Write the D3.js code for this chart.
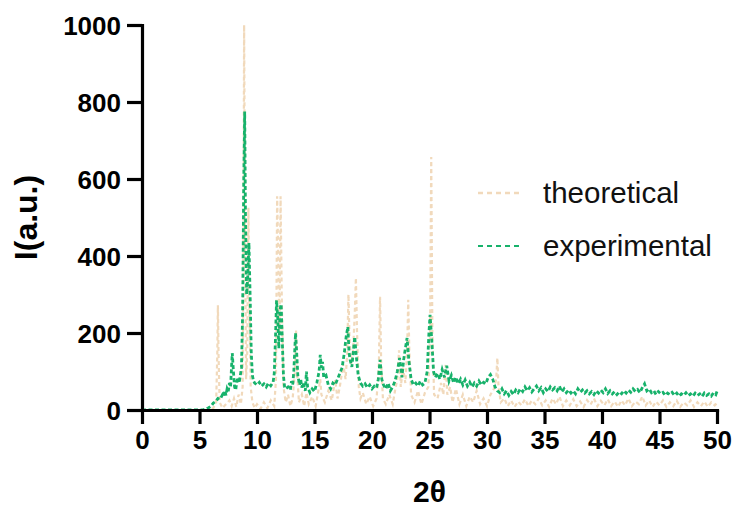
<!DOCTYPE html>
<html>
<head>
<meta charset="utf-8">
<script src="https://cdn.jsdelivr.net/npm/d3@7"></script>
<style>
  html, body { margin: 0; padding: 0; background: #ffffff; }
  svg { display: block; font-family: "Liberation Sans", Arial, sans-serif; }
</style>
</head>
<body>
<svg id="chart" width="737" height="510"></svg>
<script>
// ---- data ----
const xTicks = [0, 5, 10, 15, 20, 25, 30, 35, 40, 45, 50];
const yTicks = [0, 200, 400, 600, 800, 1000];
const seriesNames = ["theoretical", "experimental"];

const theoTheta = [0, 5.8, 6.2, 6.45, 6.55, 6.6, 6.65, 6.75, 7.0, 7.3, 7.6, 7.8, 8.0, 8.2, 8.4, 8.6, 8.75, 8.83, 8.88, 8.95, 9.05, 9.15, 9.25, 9.33, 9.45, 9.6, 9.8, 10.0, 10.3, 10.6, 10.9, 11.2, 11.5, 11.65, 11.75, 11.85, 11.95, 12.05, 12.15, 12.3, 12.5, 12.7, 12.9, 13.1, 13.3, 13.4, 13.5, 13.65, 13.9, 14.1, 14.3, 14.5, 14.8, 15.1, 15.4, 15.5, 15.6, 15.9, 16.2, 16.5, 16.8, 17.0, 17.2, 17.5, 17.7, 17.85, 17.95, 18.05, 18.2, 18.35, 18.5, 18.6, 18.7, 18.85, 19.0, 19.2, 19.5, 19.8, 20.1, 20.4, 20.6, 20.7, 20.8, 20.95, 21.2, 21.5, 21.8, 22.0, 22.2, 22.35, 22.5, 22.7, 22.9, 23.05, 23.15, 23.25, 23.4, 23.7, 24.0, 24.3, 24.6, 24.9, 25.05, 25.15, 25.25, 25.4, 25.7, 26.0, 26.2, 26.4, 26.55, 26.8, 27.0, 27.3, 27.6, 27.9, 28.2, 28.5, 28.8, 29.1, 29.4, 29.7, 30.0, 30.3, 30.6, 30.8, 30.9, 31.0, 31.2, 31.5, 31.8, 32.1, 32.4, 32.7, 33.0, 33.3, 33.6, 33.9, 34.2, 34.5, 34.8, 35.1, 35.4, 35.7, 36.0, 36.3, 36.6, 36.9, 37.2, 37.5, 37.8, 38.1, 38.4, 38.7, 39.0, 39.3, 39.6, 39.9, 40.2, 40.5, 40.8, 41.1, 41.4, 41.7, 42.0, 42.3, 42.6, 42.9, 43.2, 43.5, 43.8, 44.1, 44.4, 44.7, 45.0, 45.3, 45.6, 45.9, 46.2, 46.5, 46.8, 47.1, 47.4, 47.7, 48.0, 48.3, 48.6, 48.9, 49.2, 49.5, 49.8, 50.0];
const theoIntensity = [0, 0, 5, 20, 150, 272, 150, 20, 5, 15, 25, 10, 30, 8, 40, 15, 60, 500, 1000, 500, 80, 150, 525, 300, 60, 20, 5, 15, 3, 20, 5, 25, 10, 80, 555, 400, 200, 555, 300, 60, 20, 40, 10, 30, 100, 208, 90, 20, 40, 10, 45, 15, 35, 10, 60, 80, 40, 20, 50, 25, 78, 30, 60, 120, 80, 150, 300, 180, 120, 150, 250, 343, 200, 60, 30, 45, 15, 35, 10, 30, 120, 294, 120, 30, 15, 40, 15, 50, 80, 155, 60, 110, 70, 150, 286, 150, 40, 20, 50, 15, 45, 60, 200, 657, 200, 40, 30, 70, 40, 117, 40, 60, 20, 55, 15, 40, 10, 35, 20, 50, 15, 30, 10, 40, 55, 80, 135, 60, 20, 30, 10, 25, 8, 22, 12, 28, 10, 25, 15, 30, 12, 25, 8, 30, 15, 35, 10, 25, 12, 28, 10, 22, 8, 26, 14, 30, 10, 24, 12, 28, 10, 22, 8, 25, 12, 30, 10, 22, 15, 35, 12, 25, 8, 22, 12, 25, 8, 20, 10, 24, 8, 20, 12, 25, 8, 20, 10, 22, 8, 20, 12, 18];

const expTheta = [0, 5.2, 5.5, 5.8, 6.0, 6.2, 6.4, 6.6, 6.8, 7.0, 7.1, 7.2, 7.3, 7.4, 7.5, 7.6, 7.7, 7.8, 7.85, 7.95, 8.05, 8.15, 8.25, 8.35, 8.45, 8.55, 8.65, 8.75, 8.85, 8.93, 9.0, 9.1, 9.2, 9.3, 9.4, 9.5, 9.6, 9.7, 9.8, 10.0, 10.2, 10.4, 10.6, 10.8, 11.0, 11.2, 11.4, 11.5, 11.6, 11.7, 11.8, 11.9, 12.0, 12.1, 12.2, 12.3, 12.4, 12.5, 12.7, 12.9, 13.0, 13.1, 13.2, 13.35, 13.45, 13.55, 13.7, 13.8, 13.9, 14.0, 14.2, 14.3, 14.4, 14.6, 14.8, 15.0, 15.2, 15.4, 15.5, 15.6, 15.7, 15.8, 16.0, 16.2, 16.4, 16.6, 16.8, 17.0, 17.2, 17.4, 17.6, 17.75, 17.9, 18.0, 18.1, 18.25, 18.4, 18.5, 18.6, 18.8, 19.0, 19.2, 19.4, 19.6, 19.8, 20.0, 20.2, 20.4, 20.55, 20.7, 20.85, 21.0, 21.2, 21.4, 21.6, 21.8, 22.0, 22.2, 22.4, 22.5, 22.6, 22.75, 22.9, 23.05, 23.2, 23.4, 23.6, 23.8, 24.0, 24.2, 24.4, 24.6, 24.8, 24.95, 25.05, 25.2, 25.35, 25.5, 25.7, 25.9, 26.1, 26.3, 26.5, 26.7, 26.9, 27.1, 27.3, 27.5, 27.7, 27.9, 28.1, 28.3, 28.5, 28.7, 28.9, 29.1, 29.3, 29.5, 29.7, 29.9, 30.1, 30.3, 30.5, 30.7, 30.9, 31.1, 31.3, 31.5, 31.7, 31.9, 32.1, 32.3, 32.5, 32.7, 32.9, 33.1, 33.3, 33.5, 33.7, 33.9, 34.1, 34.3, 34.5, 34.7, 34.9, 35.1, 35.3, 35.5, 35.7, 35.9, 36.1, 36.3, 36.5, 36.7, 36.9, 37.1, 37.3, 37.5, 37.7, 37.9, 38.1, 38.3, 38.5, 38.7, 38.9, 39.1, 39.3, 39.5, 39.7, 39.9, 40.1, 40.3, 40.5, 40.7, 40.9, 41.1, 41.3, 41.5, 41.7, 41.9, 42.1, 42.3, 42.5, 42.7, 42.9, 43.1, 43.3, 43.5, 43.7, 43.9, 44.1, 44.3, 44.5, 44.7, 44.9, 45.1, 45.3, 45.5, 45.7, 45.9, 46.1, 46.3, 46.5, 46.7, 46.9, 47.1, 47.3, 47.5, 47.7, 47.9, 48.1, 48.3, 48.5, 48.7, 48.9, 49.1, 49.3, 49.5, 49.7, 49.9, 50.0];
const expIntensity = [0, 0, 2, 6, 10, 18, 22, 30, 28, 40, 35, 50, 38, 55, 48, 70, 60, 120, 148, 100, 60, 52, 75, 85, 70, 90, 110, 250, 600, 775, 500, 300, 350, 434, 300, 150, 90, 75, 70, 65, 72, 62, 68, 60, 70, 63, 72, 95, 180, 285, 240, 160, 260, 275, 180, 90, 60, 55, 60, 52, 75, 65, 100, 200, 150, 90, 65, 80, 58, 70, 50, 100, 60, 45, 55, 48, 70, 100, 143, 110, 125, 85, 90, 65, 55, 70, 65, 80, 95, 110, 150, 190, 216, 150, 130, 112, 160, 190, 150, 90, 70, 62, 68, 58, 65, 55, 62, 58, 80, 130, 80, 65, 55, 70, 50, 60, 75, 100, 135, 110, 85, 130, 160, 187, 130, 80, 65, 70, 62, 75, 65, 70, 100, 200, 247, 180, 100, 85, 95, 80, 105, 85, 115, 75, 90, 70, 85, 68, 80, 65, 78, 62, 72, 60, 70, 62, 75, 65, 72, 68, 85, 92, 80, 60, 50, 45, 55, 42, 50, 38, 48, 40, 52, 45, 55, 48, 60, 50, 58, 47, 55, 62, 50, 58, 45, 55, 48, 60, 52, 58, 50, 62, 47, 55, 45, 52, 44, 50, 42, 55, 46, 52, 44, 50, 42, 48, 40, 50, 44, 52, 45, 55, 43, 50, 42, 48, 40, 47, 42, 50, 44, 52, 46, 55, 48, 53, 45, 58, 68, 50, 55, 45, 50, 40, 48, 42, 46, 38, 44, 40, 46, 38, 44, 36, 42, 38, 45, 37, 42, 36, 44, 38, 42, 35, 44, 38, 42, 36, 45, 40, 48];

// ---- layout ----
const svg = d3.select("#chart");
const mLeft = 142, mRight = 717, mTop = 25, mBottom = 410;
const x = d3.scaleLinear().domain([0, 50]).range([mLeft, mRight]);
const y = d3.scaleLinear().domain([0, 1000]).range([mBottom, mTop]);

const colTheo = "#f1d9bb";
const colExp = "#17b26b";

const line = d3.line().x(d => x(d[0])).y(d => y(d[1]));
const nT = Math.min(theoTheta.length, theoIntensity.length);
const nE = Math.min(expTheta.length, expIntensity.length);
const theoData = theoTheta.slice(0, nT).map((t, i) => [t, theoIntensity[i]]);
const expData = expTheta.slice(0, nE).map((t, i) => [t, expIntensity[i]]);

svg.append("path").datum(theoData)
  .attr("d", line).attr("fill", "none")
  .attr("stroke", colTheo).attr("stroke-width", 2.2)
  .attr("stroke-dasharray", "4,3");

svg.append("path").datum(expData)
  .attr("d", line).attr("fill", "none")
  .attr("stroke", colExp).attr("stroke-width", 2.8)
  .attr("stroke-dasharray", "4,2.5");

// axes
const fmt = d3.format("d");
const xAxis = svg.append("g").attr("transform", `translate(0,${mBottom})`)
  .call(d3.axisBottom(x).tickValues(xTicks).tickFormat(fmt).tickSize(14).tickSizeOuter(0).tickPadding(7));
const yAxis = svg.append("g").attr("transform", `translate(${mLeft},0)`)
  .call(d3.axisLeft(y).tickValues(yTicks).tickFormat(fmt).tickSize(15).tickSizeOuter(0).tickPadding(6));

[xAxis, yAxis].forEach(g => {
  g.select(".domain").attr("stroke", "#000").attr("stroke-width", 3.2).attr("stroke-linecap", "square");
  g.selectAll(".tick line").attr("stroke", "#000").attr("stroke-width", 3.2);
  g.selectAll(".tick text")
    .attr("fill", "#000")
    .style("font-family", "'Liberation Sans', Arial, sans-serif")
    .style("font-size", "26px")
    .style("font-weight", "bold");
});
yAxis.selectAll(".tick text").attr("dy", "0.36em");

// axis titles
svg.append("text")
  .attr("transform", `translate(37,${(mTop + mBottom) / 2}) rotate(-90)`)
  .attr("text-anchor", "middle")
  .style("font-size", "32px").style("font-weight", "bold")
  .text("I(a.u.)");

svg.append("text")
  .attr("x", (mLeft + mRight) / 2).attr("y", 502)
  .attr("text-anchor", "middle")
  .style("font-size", "30px").style("font-weight", "bold")
  .text("2θ");

// legend
const legY = [193, 246];
const legCols = [colTheo, colExp];
seriesNames.forEach((name, i) => {
  svg.append("line")
    .attr("x1", 478).attr("x2", 521).attr("y1", legY[i]).attr("y2", legY[i])
    .attr("stroke", legCols[i]).attr("stroke-width", i === 0 ? 2.4 : 2.2)
    .attr("stroke-dasharray", "5,4");
  svg.append("text")
    .attr("x", 543).attr("y", legY[i]).attr("dy", "0.35em")
    .style("font-size", "29.5px")
    .attr("fill", "#111")
    .text(name);
});
</script>
</body>
</html>
